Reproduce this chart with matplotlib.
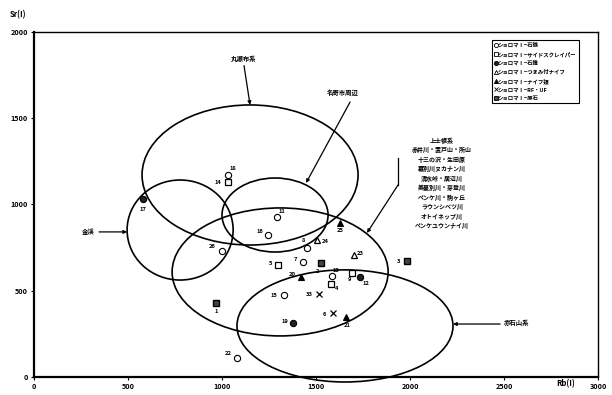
import matplotlib
matplotlib.use("Agg")
import matplotlib.pyplot as plt
from matplotlib.patches import Ellipse
from matplotlib.lines import Line2D

plt.rcParams['font.family'] = ['Noto Sans CJK JP', 'DejaVu Sans']
plt.rcParams['font.weight'] = 'bold'

# ---- artefacts from ショロマ I (Rb, Sr in ppm) ----
arrowhead_ids = ['18', '11', '16', '26', '8', '7', '13', '15', '22']
arrowhead_rb = [1030, 1290, 1245, 1000, 1450, 1430, 1585, 1330, 1080]
arrowhead_sr = [1170, 930, 825, 730, 750, 665, 585, 475, 110]

scraper_ids = ['14', '5', '9', '4']
scraper_rb = [1030, 1300, 1690, 1580]
scraper_sr = [1130, 650, 605, 540]

drill_ids = ['17', '12', '19']
drill_rb = [580, 1735, 1380]
drill_sr = [1030, 580, 315]

tanged_ids = ['24', '23']
tanged_rb = [1505, 1700]
tanged_sr = [795, 705]

knife_ids = ['25', '20', '21']
knife_rb = [1630, 1420, 1660]
knife_sr = [895, 580, 345]

rfuf_ids = ['33', '6']
rfuf_rb = [1515, 1590]
rfuf_sr = [480, 370]

raw_ids = ['1', '2', '3']
raw_rb = [970, 1525, 1985]
raw_sr = [430, 660, 670]

# ---- source areas drawn as ellipses ----
source_names = ['丸瀬布系', '名寄市周辺', '金渓', '上士幌系', '赤石山系']
source_rb = [1149, 1282, 777, 1309, 1654]
source_sr = [1171, 939, 852, 609, 296]
source_w = [1149, 564, 564, 1149, 1149]
source_h = [812, 429, 580, 742, 650]

kamishihoro_list = ['上士幌系', '赤井川・置戸山・所山', '十三の沢・生田原',
                    '幕別川ヌカナン川', '清水峠・居辺川', '美蔓別川・芽登川',
                    'ペンケ川・駒ヶ丘', 'ラウンシベツ川', 'オトイネップ川',
                    'ペンケユウンナイ川']

legend_labels = ['ショロマⅠ−石鏃', 'ショロマⅠ−サイドスクレイパー', 'ショロマⅠ−石錐',
                 'ショロマⅠ−つまみ付ナイフ', 'ショロマⅠ−ナイフ類',
                 'ショロマⅠ−RF・UF', 'ショロマⅠ−原石']

fig = plt.figure(figsize=(6.12, 3.95), dpi=100)
ax = fig.add_axes([0.0556, 0.0456, 0.9216, 0.8734])
ax.set_xlim(0, 3000)
ax.set_ylim(0, 2000)

for name, cx, cy, w, h in zip(source_names, source_rb, source_sr, source_w, source_h):
    ax.add_patch(Ellipse((cx, cy), w, h, fill=False, edgecolor='black',
                         linewidth=1.2, zorder=2, clip_on=False))

# label offsets in points for each specimen number
offsets = {
    '18': (4, 5), '11': (4, 4), '16': (-6, 2), '26': (-7, 3), '8': (-2, 5),
    '7': (-5, 2), '13': (3, 4), '15': (-7, 0), '22': (-6, 3),
    '14': (-7, 0), '5': (-6, 1), '9': (-2, -5), '4': (4, -3),
    '17': (0, -7), '12': (4, -5), '19': (-6, 1),
    '24': (6, -1), '23': (5, 1), '25': (0, -6), '20': (-6, 2), '21': (1, -6),
    '33': (-7, 0), '6': (-6, -1),
    '1': (0, -6), '2': (-2, -6), '3': (-6, 0),
}

groups = [
    (arrowhead_ids, arrowhead_rb, arrowhead_sr, dict(marker='o', mfc='white', mec='black', ms=4.5, mew=0.8)),
    (scraper_ids, scraper_rb, scraper_sr, dict(marker='s', mfc='white', mec='black', ms=4.5, mew=0.9)),
    (drill_ids, drill_rb, drill_sr, dict(marker='o', mfc='#222222', mec='black', ms=4.5, mew=0.8)),
    (tanged_ids, tanged_rb, tanged_sr, dict(marker='^', mfc='white', mec='black', ms=4.8, mew=0.9)),
    (knife_ids, knife_rb, knife_sr, dict(marker='^', mfc='black', mec='black', ms=4.8, mew=0.8)),
    (rfuf_ids, rfuf_rb, rfuf_sr, dict(marker='x', color='black', ms=4.5, mew=0.9)),
    (raw_ids, raw_rb, raw_sr, dict(marker='s', mfc='#444444', mec='black', ms=4.5, mew=1.0)),
]

handles = []
for ids, xs, ys, style in groups:
    ax.plot(xs, ys, linestyle='none', zorder=4, **style)
    handles.append(Line2D([], [], linestyle='none', **{**style, 'ms': 3.0, 'mew': 0.6}))
    for i, x, y in zip(ids, xs, ys):
        ax.annotate(i, (x, y), xytext=offsets[i], textcoords='offset points',
                    ha='center', va='center', fontsize=4.2, fontweight='bold',
                    zorder=5)

leg = ax.legend(handles, legend_labels, loc='upper left',
                bbox_to_anchor=(0.812, 0.976), prop={'size': 3.9, 'weight': 'bold'},
                handlelength=0.45, handletextpad=0.15, borderpad=0.45,
                labelspacing=0.62, borderaxespad=0, frameon=True, fancybox=False,
                edgecolor='black', framealpha=1)
leg.get_frame().set_linewidth(0.8)

arrow = dict(arrowstyle='-|>', color='black', lw=0.9, mutation_scale=5,
             shrinkA=0, shrinkB=0)
txt = dict(fontsize=4.6, fontweight='bold', ha='center', va='center')

# 丸瀬布系
ax.annotate('', xy=(1149, 1577), xytext=(1117, 1805), arrowprops=arrow)
ax.text(1117, 1849, source_names[0], **txt)
# 名寄市周辺
ax.annotate('', xy=(1447, 1125), xytext=(1681, 1594), arrowprops=arrow)
ax.text(1644, 1652, source_names[1], **txt)
# 金渓
ax.annotate('', xy=(495, 841), xytext=(346, 841), arrowprops=arrow)
ax.text(287, 841, source_names[2], **txt)
# 上士幌系 group
ax.plot([1936, 1936], [1270, 1113], color='black', lw=0.9)
ax.annotate('', xy=(1771, 835), xytext=(1936, 1113), arrowprops=arrow)
ax.text(2170, 1125, '\n'.join(kamishihoro_list), fontsize=4.3,
        fontweight='bold', ha='center', va='center', linespacing=1.4)
# 赤石山系
ax.annotate('', xy=(2229, 307), xytext=(2479, 307), arrowprops=arrow)
ax.text(2569, 313, source_names[4], **txt)

ax.set_xticks([0, 500, 1000, 1500, 2000, 2500, 3000])
ax.set_yticks([0, 500, 1000, 1500, 2000])
ax.tick_params(labelsize=5.2, length=2.5, width=0.8, pad=2)
for lab in ax.get_xticklabels() + ax.get_yticklabels():
    lab.set_fontweight('bold')
for side in ['left', 'bottom']:
    ax.spines[side].set_linewidth(1.6)
for side in ['top', 'right']:
    ax.spines[side].set_linewidth(1.0)

fig.text(10 / 612, 1 - 15 / 395, 'Sr(I)', fontsize=5.6, fontweight='bold',
         ha='left', va='center')
fig.text(566 / 612, 1 - 384 / 395, 'Rb(I)', fontsize=5.6, fontweight='bold',
         ha='center', va='center')

fig.savefig('out.png', dpi=100, facecolor='white')
